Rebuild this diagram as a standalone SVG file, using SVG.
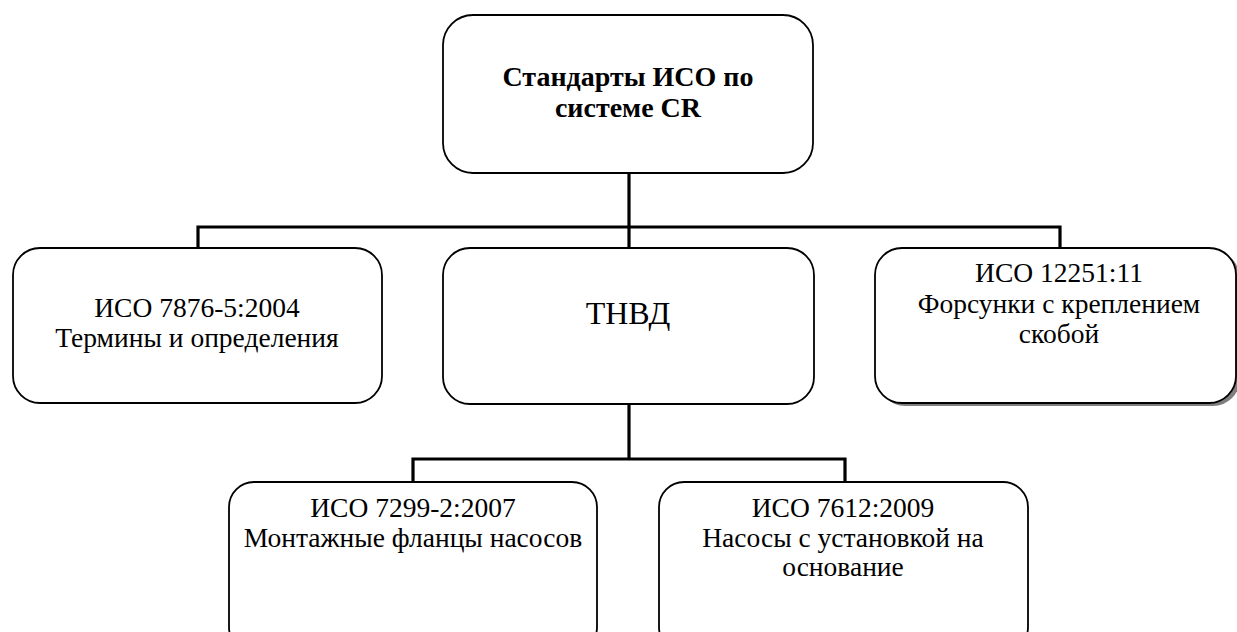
<svg xmlns="http://www.w3.org/2000/svg" width="1237" height="632" viewBox="0 0 1237 632">
<defs>
<style>
.box{fill:#fff;stroke:#000;stroke-width:1.8}
.shadow{fill:#7f7f7f;stroke:none}
.con{fill:none;stroke:#000;stroke-width:3.2}
.t{font-family:'Liberation Serif','DejaVu Serif',serif;font-size:27.5px;fill:#000;text-anchor:middle}
.b{font-weight:bold;font-size:28px}
.big{font-size:32px}
</style>
</defs>
<rect width="1237" height="632" fill="#fff"/>
<g id="connectors">
<path class="con" d="M629,173 V248"/>
<path class="con" d="M198,248 V227 H1060 V248"/>
<path class="con" d="M629,404 V459"/>
<path class="con" d="M413,482 V459 H845 V482"/>
</g>
<g id="root">
<rect class="box" x="443" y="15" width="370" height="158" rx="30" ry="30"/>
<text class="t b" x="628" y="86">Стандарты ИСО по</text>
<text class="t b" x="628" y="117">системе CR</text>
</g>
<g id="iso7876">
<rect class="box" x="13" y="248" width="369" height="155" rx="27" ry="27"/>
<text class="t" x="197" y="317">ИСО 7876-5:2004</text>
<text class="t" x="197" y="347">Термины и определения</text>
</g>
<g id="tnvd">
<rect class="box" x="443" y="248" width="371" height="156" rx="27" ry="27"/>
<text class="t big" x="628" y="324">ТНВД</text>
</g>
<g id="iso12251">
<rect class="shadow" x="878" y="251" width="362" height="155" rx="27" ry="27"/>
<rect class="box" x="875" y="248" width="361" height="155" rx="27" ry="27"/>
<text class="t" x="1059" y="282">ИСО 12251:11</text>
<text class="t" x="1059" y="313">Форсунки с креплением</text>
<text class="t" x="1059" y="343">скобой</text>
</g>
<g id="iso7299">
<rect class="box" x="229" y="482" width="368" height="170" rx="25" ry="25"/>
<text class="t" x="413" y="517">ИСО 7299-2:2007</text>
<text class="t" x="413" y="547">Монтажные фланцы насосов</text>
</g>
<g id="iso7612">
<rect class="box" x="659" y="482" width="369" height="170" rx="25" ry="25"/>
<text class="t" x="843" y="517">ИСО 7612:2009</text>
<text class="t" x="843" y="547">Насосы с установкой на</text>
<text class="t" x="843" y="576">основание</text>
</g>
</svg>
